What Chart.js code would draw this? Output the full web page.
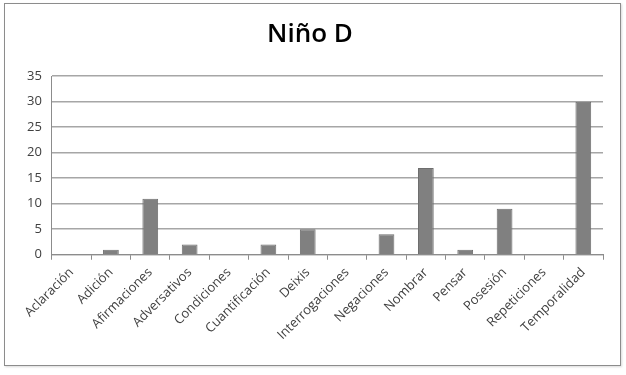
<!DOCTYPE html>
<html>
<head>
<meta charset="utf-8">
<script src="https://cdn.jsdelivr.net/npm/chart.js@4"></script>
<style>
    body { margin: 0; background: #fff; }
    #box {
        position: absolute; left: 4px; top: 3px;
        width: 615px; height: 361px;
        border: 1px solid #8c8c8c;
        box-shadow: 1px 1px 2px rgba(0,0,0,0.15);
    }
</style>
</head>
<body>
<div id="box"><canvas id="chart" width="615" height="361"></canvas></div>
<script>
    // Categorías y valores
    const categories = [
        'Aclaración', 'Adición', 'Afirmaciones', 'Adversativos', 'Condiciones',
        'Cuantificación', 'Deixis', 'Interrogaciones', 'Negaciones', 'Nombrar',
        'Pensar', 'Posesión', 'Repeticiones', 'Temporalidad'
    ];
    const values = [0, 1, 11, 2, 0, 2, 5, 0, 4, 17, 1, 9, 0, 30];
    const chartTitle = 'Niño D';

    const FONT = "'Open Sans', 'Liberation Sans', sans-serif";

    const ctx = document.getElementById('chart').getContext('2d');
    new Chart(ctx, {
        type: 'bar',
        data: {
            labels: categories,
            datasets: [{
                label: chartTitle,
                data: values,
                backgroundColor: '#808080',
                borderColor: '#6e6e6e',
                borderWidth: 1,
                categoryPercentage: 1,
                barPercentage: 0.4
            }]
        },
        options: {
            responsive: false,
            animation: false,
            layout: { padding: { left: 12, right: 17, top: 0, bottom: 17 } },
            plugins: {
                legend: { display: false },
                tooltip: { enabled: false },
                title: {
                    display: true,
                    text: chartTitle,
                    color: '#000',
                    font: { family: FONT, size: 26, weight: '600' },
                    padding: { top: 15, bottom: 26 }
                }
            },
            scales: {
                x: {
                    offset: true,
                    grid: {
                        offset: true,
                        drawOnChartArea: false,
                        drawTicks: true,
                        tickLength: 5,
                        color: '#8c8c8c'
                    },
                    border: { color: '#8c8c8c' },
                    ticks: {
                        color: '#404040',
                        font: { family: FONT, size: 13 },
                        minRotation: 45,
                        maxRotation: 45,
                        autoSkip: false,
                        padding: 5
                    }
                },
                y: {
                    min: 0,
                    max: 35,
                    ticks: {
                        stepSize: 5,
                        color: '#404040',
                        font: { family: FONT, size: 13 },
                        padding: 10
                    },
                    grid: {
                        color: '#a6a6a6',
                        lineWidth: 1.5,
                        drawTicks: false
                    },
                    border: { color: '#8c8c8c' }
                }
            }
        }
    });
</script>
</body>
</html>
